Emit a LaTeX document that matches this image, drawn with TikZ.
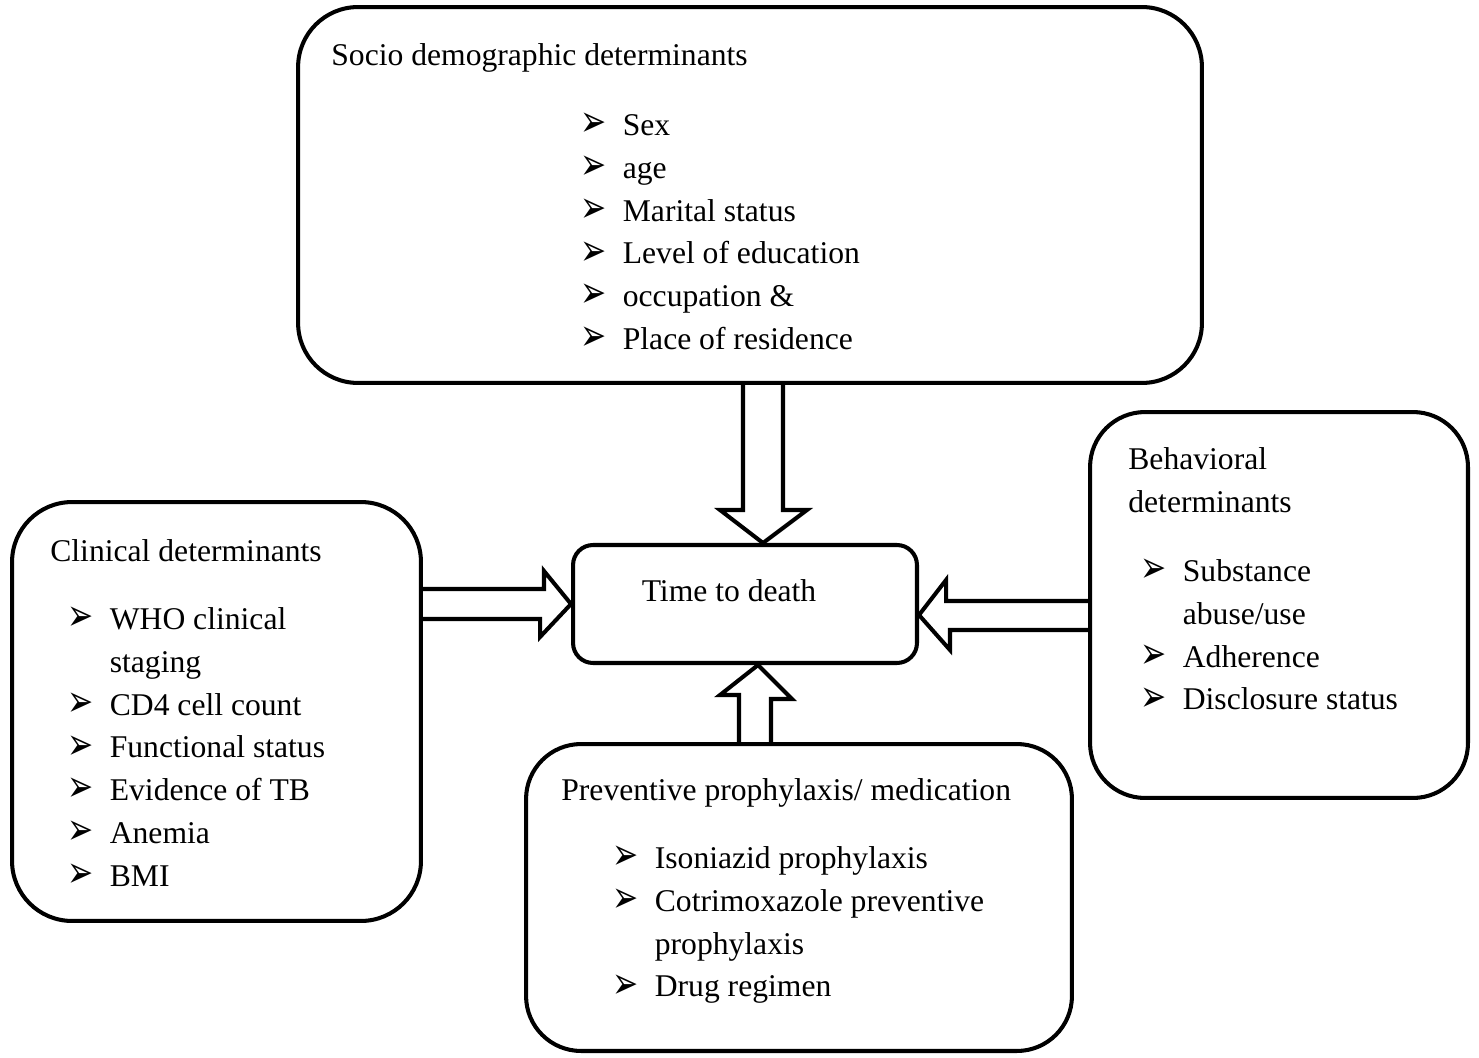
\documentclass[tikz,border=0pt]{standalone}
\usepackage{fontspec}
\usepackage{graphicx}
\setmainfont{Liberation Serif}
\newfontfamily\dingfont{DejaVu Sans}
\usetikzlibrary{calc}
\newcommand{\itm}{\makebox[0.85cm][l]{\raisebox{-0.6pt}{\scalebox{0.74}[1.05]{\dingfont\fontsize{24}{24}\selectfont ➢}}}}

\begin{document}
\begin{tikzpicture}[
  x=0.02cm, y=-0.02cm,
  box/.style={draw, line width=2.3pt, rounded corners=#1, inner sep=0},
  box/.default=1.2cm,
  head/.style={anchor=base west, inner sep=0, font=\fontsize{18}{24.4}\selectfont},
  list/.style={anchor=north west, inner sep=0, font=\fontsize{18}{24.4}\selectfont},
  blockarrow/.style={line width=2.3pt, line join=miter}
]
\useasboundingbox (0,0) rectangle (1479,1057);

% boxes
\node[box, minimum width=18.08cm, minimum height=7.52cm] (socio) at (750,195) {};
\node[box, minimum width=8.18cm, minimum height=8.38cm] (clinic) at (216.5,711.5) {};
\node[box=0.4cm, minimum width=6.88cm, minimum height=2.36cm] (time) at (745,604) {};
\node[box=1.1cm, minimum width=7.56cm, minimum height=7.72cm] (behav) at (1279,605) {};
\node[box=1.1cm, minimum width=10.92cm, minimum height=6.14cm] (prev) at (799,897.5) {};

% texts
\node[head] (socioHead) at (331,66) {Socio demographic determinants};
\node[list] (socioList) at (580,105) {\begin{tabular}{@{}l@{}}
\itm Sex\\
\itm age\\
\itm Marital status\\
\itm Level of education\\
\itm occupation \&\\
\itm Place of residence
\end{tabular}};

\node[head] (clinicHead) at (50,561) {Clinical determinants};
\node[list] (clinicList) at (67,599) {\begin{tabular}{@{}l@{}}
\itm WHO clinical\\
\hspace*{0.85cm}staging\\
\itm CD4 cell count\\
\itm Functional status\\
\itm Evidence of TB\\
\itm Anemia\\
\itm BMI
\end{tabular}};

\node[head, anchor=base] (timeText) at (729,601) {Time to death};

\node[list] (behavHead) at (1128,439) {\begin{tabular}{@{}l@{}}
Behavioral\\
determinants
\end{tabular}};
\node[list] (behavList) at (1140,551) {\begin{tabular}{@{}l@{}}
\itm Substance\\
\hspace*{0.85cm}abuse/use\\
\itm Adherence\\
\itm Disclosure status
\end{tabular}};

\node[head] (prevHead) at (561,800) {Preventive prophylaxis/ medication};
\node[list] (prevList) at (612,838) {\begin{tabular}{@{}l@{}}
\itm Isoniazid prophylaxis\\
\itm Cotrimoxazole preventive\\
\hspace*{0.85cm}prophylaxis\\
\itm Drug regimen
\end{tabular}};

% block arrows into the outcome
\draw[blockarrow] ($(socio.south)+(-7,0)$) -- ++(0,125) -- ++(-23,0)
  -- ($(time.north)+(18,0)$) -- ($(socio.south)+(57,125)$) -- ++(-24,0)
  -- ($(socio.south)+(33,0)$);
\draw[blockarrow] ($(clinic.east |- time.west)+(0,-15)$) -- ++(121,0) -- ++(0,-18)
  -- (time.west) -- ++(-31,33) -- ++(0,-18)
  -- ($(clinic.east |- time.west)+(0,15)$);
\draw[blockarrow] ($(behav.west |- time.east)+(0,-3)$) -- ++(-142,0) -- ++(0,-21)
  -- ($(time.east)+(0,11)$) -- ++(31,35) -- ++(0,-20)
  -- ($(behav.west |- time.east)+(0,26)$);
\draw[blockarrow] ($(prev.north)+(-60,0)$) -- ++(0,-47) -- ++(-19,0)
  -- ($(time.south)+(13,0)$) -- ++(34,34) -- ++(-21,0)
  -- ($(prev.north)+(-28,0)$);
\end{tikzpicture}
\end{document}
